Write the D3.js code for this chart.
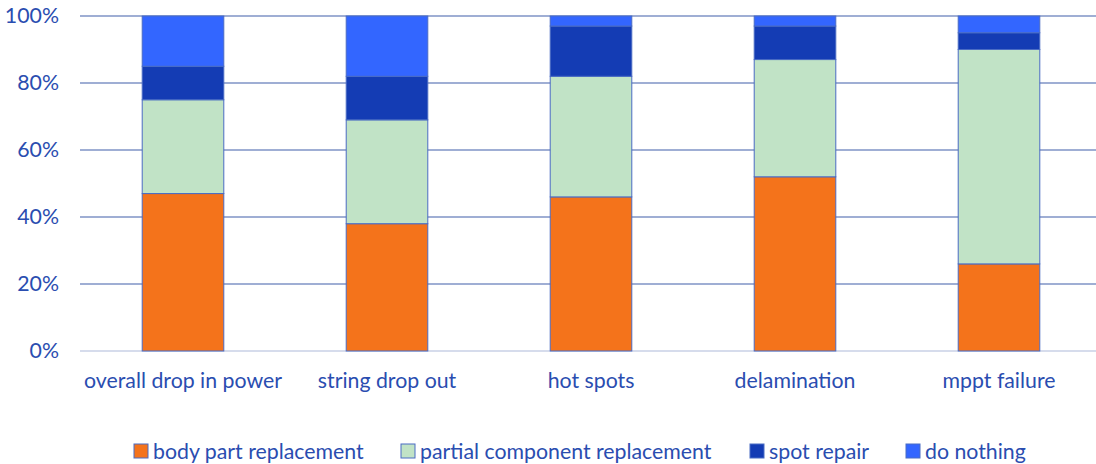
<!DOCTYPE html>
<html><head><meta charset="utf-8">
<script src="https://cdn.jsdelivr.net/npm/d3@7"></script>
<style>body{margin:0;background:#fff}svg{display:block}</style>
</head><body>
<svg id="c" width="1096" height="464"></svg>
<script>
const categories = ["overall drop in power","string drop out","hot spots","delamination","mppt failure"];
const seriesNames = ["body part replacement","partial component replacement","spot repair","do nothing"];
const bodyPart = [47,38,46,52,26];
const partial = [28,31,36,35,64];
const spotRepair = [10,13,15,10,5];
const doNothing = [15,18,3,3,5];
const yTicks = [0,20,40,60,80,100];
const colors = ["#F4731B","#C1E3C6","#143CB4","#3366FF"];

const svg = d3.select("#c");
const font = "Lato, 'Open Sans', sans-serif";
const fs = "21.3px";
const textColor = "#2A4DB0";
const x = d3.scaleBand().domain(categories).range([81,1101]).paddingInner(0.6).paddingOuter(0.3);
const y = d3.scaleLinear().domain([0,100]).range([351,16]);

svg.append("g").selectAll("line").data(yTicks).join("line")
  .attr("x1",80).attr("x2",1096)
  .attr("y1",d=>y(d)).attr("y2",d=>y(d))
  .attr("stroke",d=>d===0?"#C9D1E6":"#7F93C6").attr("stroke-width",1.3);

const yAxis = d3.axisLeft(y).tickValues(yTicks).tickFormat(d=>d+"%").tickSize(0).tickPadding(0);
const ga = svg.append("g").attr("transform","translate(59,0)").call(yAxis);
ga.select(".domain").remove();
ga.selectAll("text").attr("fill",textColor).style("font-family",font).style("font-size",fs);

const stackData = categories.map((c,i)=>({cat:c, s0:bodyPart[i], s1:partial[i], s2:spotRepair[i], s3:doNothing[i]}));
const stack = d3.stack().keys(["s0","s1","s2","s3"])(stackData);
svg.append("g").selectAll("g").data(stack).join("g")
  .attr("fill",(d,i)=>colors[i])
  .selectAll("rect").data(d=>d).join("rect")
  .attr("x",d=>x(d.data.cat)).attr("width",x.bandwidth())
  .attr("y",d=>y(d[1])).attr("height",d=>y(d[0])-y(d[1]))
  .attr("stroke","#4A6CC4").attr("stroke-width",1);

const xAxis = d3.axisBottom(x).tickSize(0).tickPadding(0);
const gx = svg.append("g").attr("transform","translate(0,388)").call(xAxis);
gx.select(".domain").remove();
gx.selectAll("text").attr("fill",textColor).style("font-family",font).style("font-size",fs).attr("dy","0");

const legX = [134,401,750,906];
const lg = svg.append("g").selectAll("g").data(seriesNames).join("g")
  .attr("transform",(d,i)=>`translate(${legX[i]},444)`);
lg.append("rect").attr("width",14).attr("height",14).attr("fill",(d,i)=>colors[i]).attr("stroke","#4A6CC4").attr("stroke-width",1);
lg.append("text").attr("x",19).attr("y",14.5).text(d=>d).attr("fill",textColor)
  .style("font-family",font).style("font-size",fs);
</script>
</body></html>
